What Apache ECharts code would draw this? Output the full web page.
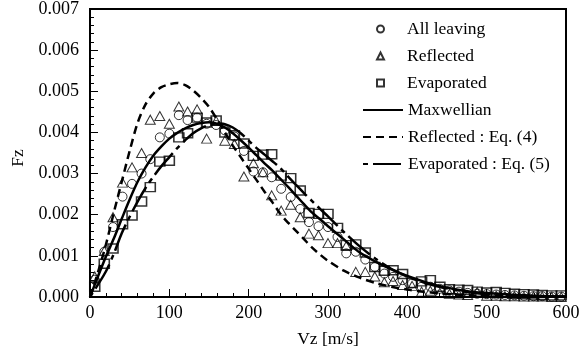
<!DOCTYPE html>
<html><head><meta charset="utf-8">
<script src="https://cdn.jsdelivr.net/npm/echarts@6/dist/echarts.min.js"></script>
<style>html,body{margin:0;padding:0;background:#fff}#c{width:586px;height:356px}</style>
</head><body><div id="c"></div>
<script>
// ---- data ----
const vBins = [6,18,29,41,53,65,76,88,100,112,123,135,147,159,170,182,194,206,218,229,241,253,265,276,288,300,312,323,335,347,359,371,382,394,406,418,429,441,453,465,476,488,500,512,523,535,547,559,570,582,594];
const allLeaving = [.00042,.0011,.0017,.00244,.00275,.003,.00335,.00388,.00397,.00442,.0043,.00436,.00421,.00418,.00405,.0039,.00355,.00305,.00303,.00291,.00263,.00243,.00214,.00182,.00172,.0017,.00146,.00106,.0011,.00091,.00073,.00057,.00049,.00041,.00033,.00025,.00025,.0002,.00016,.00013,.0001,.00008,.00007,.00006,.00005,.00004,.00003,.00002,.00002,.00001,.00001];
const reflected = [.0005,.00112,.00194,.00278,.00315,.0035,.00431,.0044,.00421,.00463,.00451,.00456,.00385,.00428,.0038,.00372,.00293,.00325,.00303,.00247,.0021,.00224,.00194,.00154,.0015,.00131,.00131,.00124,.00061,.00061,.0005,.00036,.00039,.00029,.00027,.00013,.00015,.0001,.00008,.00006,.00005,.00012,.00003,.00003,.00002,.00002,.00001,.00001,.00001,0,0];
const evaporated = [.00025,.00081,.00118,.00177,.00198,.00232,.00267,.00329,.00331,.00388,.00398,.00436,.00424,.00429,.004,.00393,.00373,.00343,.00346,.00347,.00295,.00289,.00259,.00204,.00202,.00202,.00168,.00126,.00128,.00108,.00073,.00064,.00065,.00056,.00034,.00038,.00041,.00025,.00019,.00018,.00017,.00013,.00011,.00012,.0001,.00008,.00007,.00006,.00005,.00004,.00004];

const vCurve = [0,10,20,30,40,50,60,70,80,90,100,110,120,130,140,150,160,170,180,190,200,210,220,230,240,250,260,270,280,290,300,320,340,360,380,400,420,440,460,480,500,530,560,600];
const maxwellian = [0,.0005,.00098,.00142,.0019,.00237,.0028,.00315,.00344,.00366,.00385,.00399,.0041,.00418,.00423,.00425,.00421,.00412,.00398,.00381,.00363,.00344,.00325,.00307,.00287,.00267,.00246,.00225,.00205,.00189,.00172,.0014,.00108,.00086,.00067,.00051,.00038,.00027,.00019,.00013,.0001,.00006,.00003,.00001];
const reflectedEq4 = [0,.0006,.00127,.00205,.0028,.00355,.00423,.00468,.00495,.0051,.00517,.0052,.00515,.00502,.00484,.00462,.00432,.004,.00368,.0034,.00312,.00284,.00256,.0023,.00202,.0018,.0016,.0014,.0012,.00103,.00088,.00064,.00047,.00034,.00025,.00018,.00013,.00009,.00006,.00004,.00003,.00002,.00001,0];
const evaporatedEq5 = [0,.0003,.00062,.00105,.00155,.00195,.00232,.00265,.00293,.00318,.0034,.00362,.00381,.00398,.0041,.00418,.00422,.0042,.00412,.00398,.0038,.00362,.00346,.0033,.00313,.00292,.00272,.00252,.00233,.00214,.00196,.00158,.00123,.00093,.00068,.0005,.00036,.00025,.00017,.00011,.00007,.00004,.00002,.00001];

const xTicks = {min: 0, max: 600, step: 100};
const yTicks = {min: 0, max: 0.007, step: 0.001};
const seriesNames = ['All leaving','Reflected','Evaporated','Maxwellian','Reflected : Eq. (4)','Evaporated : Eq. (5)'];

// ---- chart ----
const FONT = '"Liberation Serif", "Times New Roman", serif';
const pair = (xs, ys) => xs.map((x, i) => [x, ys[i]]);
const chart = echarts.init(document.getElementById('c'), null, {renderer: 'canvas'});
const hollow = (bw) => ({color: 'rgba(0,0,0,0)', borderColor: '#000', borderWidth: bw});
const lineS = (name, ys, type, offset, z) => ({
  name, type: 'line', data: pair(vCurve, ys), showSymbol: false, symbol: 'none', smooth: 0.3,
  lineStyle: {color: '#000', width: 2.5, type, dashOffset: offset}, itemStyle: {color: '#000'}, z
});
const txt = {fontFamily: FONT, fontSize: 17.5, color: '#000'};
const tickTxt = {fontFamily: FONT, fontSize: 18, color: '#000'};

chart.setOption({
  backgroundColor: '#fff',
  animation: false,
  textStyle: {fontFamily: FONT, color: '#000'},
  grid: {left: 90, right: 20, top: 8, bottom: 59, show: true, borderColor: '#000', borderWidth: 2, backgroundColor: 'rgba(0,0,0,0)'},
  xAxis: {
    type: 'value', min: xTicks.min, max: xTicks.max, interval: xTicks.step,
    name: 'Vz [m/s]', nameLocation: 'middle', nameGap: 33, nameTextStyle: txt,
    axisLine: {show: true, onZero: false, lineStyle: {color: '#000', width: 2}},
    axisTick: {show: true, inside: true, length: 8, lineStyle: {color: '#000', width: 1}},
    minorTick: {show: true, splitNumber: 5, length: 4, lineStyle: {color: '#000', width: 1}},
    splitLine: {show: false},
    axisLabel: Object.assign({margin: 7}, tickTxt)
  },
  yAxis: {
    type: 'value', min: yTicks.min, max: yTicks.max, interval: yTicks.step,
    name: 'Fz', nameLocation: 'middle', nameGap: 61, nameRotate: 90,
    nameTextStyle: Object.assign({padding: [0, 10, 0, 0]}, txt),
    axisLine: {show: true, onZero: false, lineStyle: {color: '#000', width: 2}},
    axisTick: {show: true, inside: true, length: 8, lineStyle: {color: '#000', width: 1}},
    minorTick: {show: true, splitNumber: 5, length: 4, lineStyle: {color: '#000', width: 1}},
    splitLine: {show: false},
    axisLabel: Object.assign({margin: 11, formatter: v => v.toFixed(3)}, tickTxt)
  },
  legend: [
    {data: seriesNames.slice(0, 3), orient: 'vertical', left: 376, top: 20, padding: 0,
     itemWidth: 7, itemHeight: 7, itemGap: 9, selectedMode: false,
     textStyle: Object.assign({lineHeight: 16, padding: [0, 0, 0, 18]}, txt)},
    {data: seriesNames.slice(3), orient: 'vertical', left: 362, top: 101, padding: 0,
     itemWidth: 40, itemHeight: 10, itemGap: 9, selectedMode: false,
     itemStyle: {opacity: 0},
     textStyle: Object.assign({lineHeight: 16}, txt)}
  ],
  series: [
    {name: seriesNames[0], type: 'scatter', data: pair(vBins, allLeaving), symbol: 'circle', symbolSize: 9, itemStyle: hollow(1), z: 2},
    {name: seriesNames[1], type: 'scatter', data: pair(vBins, reflected), symbol: 'triangle', symbolSize: [10, 9], itemStyle: hollow(1), z: 2},
    {name: seriesNames[2], type: 'scatter', data: pair(vBins, evaporated), symbol: 'rect', symbolSize: [10, 9], itemStyle: hollow(1.5), z: 2},
    lineS(seriesNames[3], maxwellian, 'solid', 0, 3),
    lineS(seriesNames[4], reflectedEq4, [8, 5], 0, 3),
    lineS(seriesNames[5], evaporatedEq5, [28, 5, 5, 5], 33, 3)
  ]
});
</script></body></html>
